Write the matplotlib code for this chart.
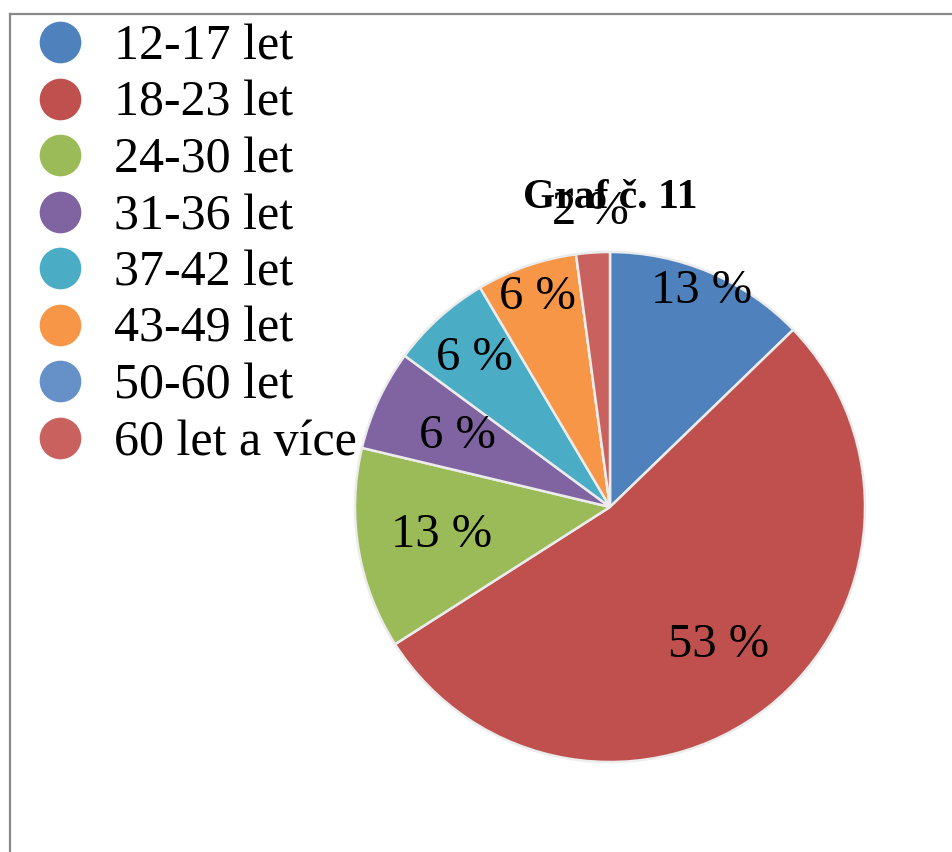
import matplotlib.pyplot as plt
from matplotlib.lines import Line2D
import numpy as np

plt.rcParams['font.family'] = ['Liberation Serif', 'DejaVu Serif']

# respondents by age group
age_groups = ["12-17 let", "18-23 let", "24-30 let", "31-36 let",
              "37-42 let", "43-49 let", "50-60 let", "60 let a více"]
counts = [6, 25, 6, 3, 3, 3, 0, 1]
colors = ["#4F81BD", "#C0504D", "#9BBB59", "#8064A2",
          "#4BACC6", "#F79646", "#6590C8", "#C9625E"]
title = "Graf č. 11"

# how far from the centre each percentage label sits (fraction of radius)
label_dist = [0.92, 0.69, 0.67, 0.66, 0.79, 0.87, 0.7, 1.16]

W, H = 952, 852
fig = plt.figure(figsize=(W / 100, H / 100), dpi=100)

# chart frame (only top and left edges are visible)
fig.add_artist(Line2D([10 / W, 10 / W], [0, 1 - 14 / H], color="#8a8a8a", lw=1.6))
fig.add_artist(Line2D([10 / W, 1], [1 - 14 / H, 1 - 14 / H], color="#8a8a8a", lw=1.6))

cx, cy, r = 610, 507, 255
ax = fig.add_axes([(cx - r) / W, (H - cy - r) / H, 2 * r / W, 2 * r / H])


def fmt(pct):
    return f"{pct:.0f} %" if pct >= 0.5 else ""


wedges, texts, autotexts = ax.pie(
    counts, colors=colors, startangle=90, counterclock=False,
    autopct=fmt, wedgeprops=dict(edgecolor="#ececec", linewidth=1.8),
    textprops=dict(fontsize=35, color="black"))

for w, t, d in zip(wedges, autotexts, label_dist):
    mid = np.deg2rad((w.theta1 + w.theta2) / 2)
    t.set_position((d * np.cos(mid), d * np.sin(mid)))

ax.set_xlim(-1, 1)
ax.set_ylim(-1, 1)

fig.text(cx / W, 1 - 198 / H, title, ha="center", va="center",
         fontsize=30, fontweight="bold")

handles = [Line2D([], [], marker="o", linestyle="", markersize=31,
                  markerfacecolor=c, markeredgecolor="white", markeredgewidth=1)
           for c in colors]
fig.legend(handles, age_groups, loc="upper left",
           bbox_to_anchor=(27 / W, 1 - 24 / H), frameon=False,
           fontsize=36, labelspacing=0.2, handletextpad=0.45,
           handlelength=1.3, borderpad=0, borderaxespad=0)

fig.savefig("out.png", dpi=100)
